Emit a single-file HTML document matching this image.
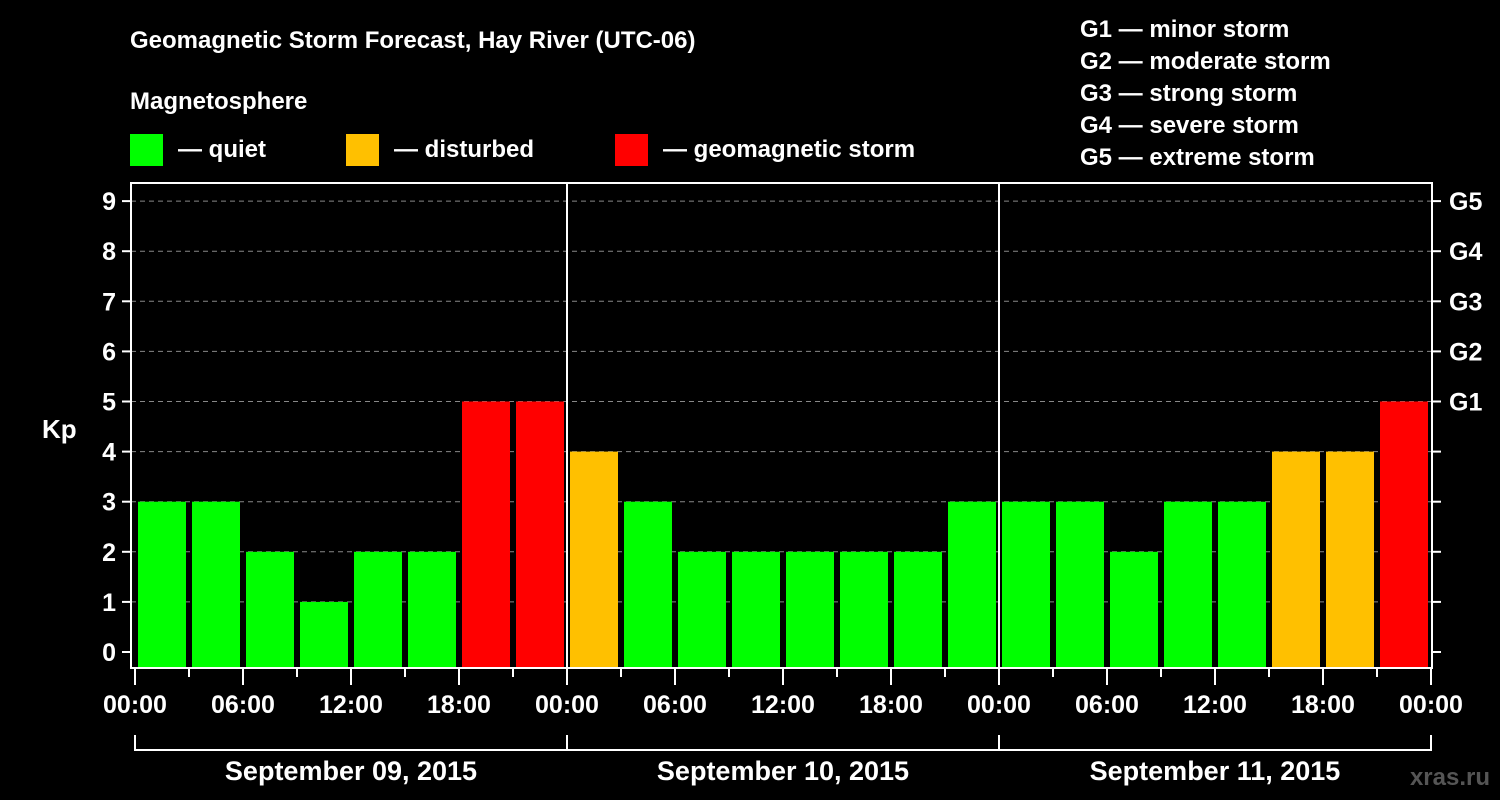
<!DOCTYPE html>
<html><head><meta charset="utf-8"><style>
body{margin:0;background:#000;}
svg{display:block;font-family:"Liberation Sans",Arial,sans-serif;font-weight:bold;}
</style></head><body>
<svg id="c" width="1500" height="800" viewBox="0 0 1500 800">
<rect width="1500" height="800" fill="#000"/>
<text x="130" y="48" fill="#fff" font-size="24">Geomagnetic Storm Forecast, Hay River (UTC-06)</text>
<text x="130" y="109" fill="#fff" font-size="24">Magnetosphere</text>
<g><rect x="130" y="134" width="33" height="32" fill="#00ff00"/><text x="178" y="157" fill="#fff" font-size="24">— quiet</text></g>
<g><rect x="346" y="134" width="33" height="32" fill="#ffc000"/><text x="394" y="157" fill="#fff" font-size="24">— disturbed</text></g>
<g><rect x="615" y="134" width="33" height="32" fill="#ff0000"/><text x="663" y="157" fill="#fff" font-size="24">— geomagnetic storm</text></g>
<g fill="#fff" font-size="24">
<text x="1080" y="37">G1 — minor storm</text>
<text x="1080" y="69">G2 — moderate storm</text>
<text x="1080" y="101">G3 — strong storm</text>
<text x="1080" y="133">G4 — severe storm</text>
<text x="1080" y="165">G5 — extreme storm</text>
</g>
<text x="42" y="438" fill="#fff" font-size="26">Kp</text>
<text x="1490" y="785" fill="#555" font-size="24" text-anchor="end">xras.ru</text>
<g id="plot"></g>
</svg>
<script>
const kpValues=[3,3,2,1,2,2,5,5,4,3,2,2,2,2,2,3,3,3,2,3,3,4,4,5];
const dayLabels=["September 09, 2015","September 10, 2015","September 11, 2015"];
const yTicks=[0,1,2,3,4,5,6,7,8,9];
const gLabels=["G1","G2","G3","G4","G5"];
const timeLabels=["00:00","06:00","12:00","18:00"];
const NS="http://www.w3.org/2000/svg";
const g=document.getElementById('plot');
const L=131,R=1432,T=183,B=668;
const x=h=>135+18*h;
const y=v=>652-50.1*v;
function mk(t,a){const e=document.createElementNS(NS,t);for(const k in a)e.setAttribute(k,a[k]);g.appendChild(e);return e;}
function color(v){return v>=5?"#ff0000":v>=4?"#ffc000":"#00ff00";}
yTicks.forEach(v=>{
 if(v>0){const l=mk('line',{x1:L,x2:R,y1:y(v),y2:y(v),stroke:"#888","stroke-dasharray":"5,4","stroke-width":1});
 
 }
 mk('line',{x1:L-9,x2:L,y1:y(v),y2:y(v),stroke:"#fff","stroke-width":2});
 mk('line',{x1:R,x2:R+9,y1:y(v),y2:y(v),stroke:"#fff","stroke-width":2});
 const t=mk('text',{x:116,y:y(v)+9,fill:"#fff","font-size":25,"text-anchor":"end"});t.textContent=v;
 
 
});
gLabels.forEach((s,i)=>{const t=mk('text',{x:1449,y:y(5+i)+9,fill:"#fff","font-size":25});t.textContent=s;
 
 });
kpValues.forEach((v,i)=>{const r=mk('rect',{x:x(i*3)+3,y:y(v),width:48,height:B-y(v),fill:color(v)});
 
 });
mk('rect',{x:L,y:T,width:R-L,height:B-T,fill:"none",stroke:"#fff","stroke-width":2});
for(let d=1;d<3;d++)mk('line',{x1:x(24*d),x2:x(24*d),y1:T,y2:B,stroke:"#fff","stroke-width":2});
for(let h=0;h<=72;h+=3){const big=h%6==0;mk('line',{x1:x(h),x2:x(h),y1:B,y2:B+(big?17:9),stroke:"#fff","stroke-width":2});
 if(big){const t=mk('text',{x:x(h),y:713,fill:"#fff","font-size":25,"text-anchor":"middle"});t.textContent=timeLabels[(h/6)%4];
 
 }}
mk('polyline',{points:`${x(0)},735 ${x(0)},750 ${x(72)},750 ${x(72)},735`,fill:"none",stroke:"#fff","stroke-width":2});
dayLabels.forEach((s,d)=>{mk('line',{x1:x(24*d),x2:x(24*d),y1:735,y2:750,stroke:"#fff","stroke-width":2});
 const t=mk('text',{x:x(24*d+12),y:780,fill:"#fff","font-size":27,"text-anchor":"middle"});t.textContent=s;
 
 });
</script>
</body></html>
